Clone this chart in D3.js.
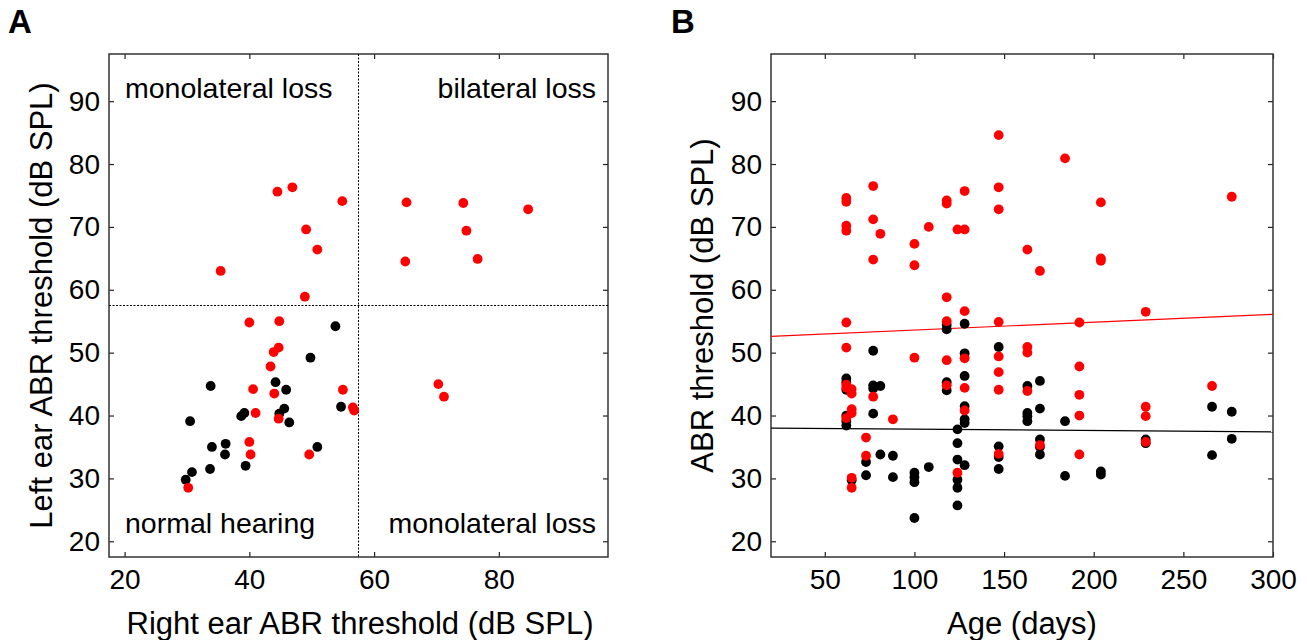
<!DOCTYPE html>
<html>
<head>
<meta charset="utf-8">
<script src="https://cdn.jsdelivr.net/npm/d3@7"></script>
<style>
  body { margin: 0; background: #fff; }
  text { font-family: "Liberation Sans", Arial, sans-serif; fill: #000; }
</style>
</head>
<body>
<div id="wrapper"></div>
<script>
// Panel A: right ear vs left ear threshold (dB SPL)
const blackA = [
  [53.8,54.2],[49.8,49.2],[33.8,44.7],[44.2,45.3],[45.9,44.1],[45.6,41.1],[44.8,40.3],
  [46.4,38.9],[39.2,40.4],[38.7,39.9],[30.5,39.1],[54.7,41.4],[34.0,35.0],[36.2,35.5],
  [36.1,33.8],[33.7,31.5],[39.4,32.0],[50.9,35.0],[30.8,31.0],[29.8,29.8]
];
const redA = [
  [44.5,75.6],[46.9,76.3],[54.9,74.1],[49.1,69.6],[50.9,66.4],[35.4,63.0],[48.9,58.9],
  [65.2,73.9],[74.3,73.8],[84.7,72.8],[74.8,69.4],[65.0,64.5],[76.6,64.9],
  [70.3,45.0],[71.2,43.0],[56.6,41.3],[56.8,40.8],[55.0,44.1],
  [40.0,54.8],[44.8,55.0],[43.9,50.1],[44.7,50.8],[43.4,47.8],[40.6,44.2],[44.0,43.5],
  [41.0,40.4],[44.7,39.5],[40.0,35.8],[40.2,33.8],[49.6,33.8],[30.2,28.5]
];
const lossCutoff = 57.5;

// Panel B: age (days) vs threshold (dB SPL)
const blackB = [
  [62,45.9],[62,45.3],[62,44.1],[62,40.0],[62,39.1],[62,38.4],
  [65,29.7],[73,32.6],[73,30.5],
  [77,50.3],[77,44.8],[77,44.3],[77,40.3],
  [81,44.7],[81,33.8],[88,33.6],[88,30.2],
  [100,30.9],[100,30.2],[100,29.4],[100,23.7],[108,31.8],
  [118,54.4],[118,53.7],[118,45.3],[118,44.0],
  [124,37.8],[124,35.6],[124,33.0],[124,29.8],[124,28.5],[124,25.7],
  [128,54.6],[128,49.9],[128,46.3],[128,41.5],[128,39.4],[128,38.8],[128,32.1],
  [147,50.9],[147,35.1],[147,33.4],[147,31.5],
  [163,44.7],[163,40.4],[163,39.9],[163,39.1],
  [170,45.5],[170,41.1],[170,36.2],[170,35.0],[170,33.8],
  [184,39.1],[184,30.4],[204,31.1],[204,30.6],
  [229,36.2],[229,35.6],[266,41.4],[266,33.7],[277,40.6],[277,36.3]
];
const redB = [
  [62,74.6],[62,74.0],[62,70.2],[62,69.4],[62,54.8],[62,50.8],[62,44.9],[62,44.4],[62,39.6],
  [65,44.2],[65,43.5],[65,41.0],[65,40.4],[65,30.1],[65,28.5],
  [73,36.5],[73,33.6],
  [77,76.5],[77,71.2],[77,64.8],[77,43.0],
  [81,68.9],[88,39.4],
  [100,67.3],[100,63.9],[100,49.2],[108,70.0],
  [118,74.2],[118,73.7],[118,58.8],[118,55.0],[118,48.8],[118,44.8],
  [124,69.6],[124,30.9],
  [128,75.7],[128,69.6],[128,56.6],[128,49.1],[128,44.4],[128,40.8],
  [147,84.6],[147,76.3],[147,72.8],[147,54.9],[147,49.4],[147,46.9],[147,44.1],[147,33.9],
  [163,66.4],[163,50.9],[163,50.0],[163,43.9],
  [170,63.0],[170,35.3],[184,80.9],
  [192,54.8],[192,47.8],[192,43.3],[192,40.0],[192,33.8],
  [204,73.9],[204,65.0],[204,64.6],
  [229,56.5],[229,41.4],[229,39.9],[229,35.8],
  [266,44.7],[277,74.8]
];
// fitted lines, threshold at the two ends of the age axis
const fitAges = [20, 300];
const redFit = [52.6, 56.1];
const blackFit = [38.0, 37.4];

const ticksA = [20, 40, 60, 80];
const ticksY = [20, 30, 40, 50, 60, 70, 80, 90];
const ticksAge = [50, 100, 150, 200, 250, 300];

const width = 1307, height = 640;
const plotTop = 54, plotBottom = 557;
const r = 4.9;

let svg = d3.select("#wrapper").append("svg")
  .attr("width", width)
  .attr("height", height);

svg.append("rect").attr("width", width).attr("height", height).attr("fill", "#fff");

function panel(left, right, xDomain, xTicks) {
  let x = d3.scaleLinear().domain(xDomain).range([left, right]);
  let y = d3.scaleLinear().domain([17.5, 97.5]).range([plotBottom, plotTop]);
  let g = svg.append("g");

  // ticks on all four sides, pointing in
  g.append("g").attr("transform", `translate(0,${plotBottom})`)
    .call(d3.axisBottom(x).tickValues(xTicks).tickSize(-5).tickPadding(12));
  g.append("g").attr("transform", `translate(${left},0)`)
    .call(d3.axisLeft(y).tickValues(ticksY).tickSize(-5).tickPadding(9));
  g.append("g").attr("transform", `translate(0,${plotTop})`)
    .call(d3.axisTop(x).tickValues(xTicks).tickSize(-5).tickFormat(""));
  g.append("g").attr("transform", `translate(${right},0)`)
    .call(d3.axisRight(y).tickValues(ticksY).tickSize(-5).tickFormat(""));

  g.selectAll(".domain").remove();
  g.selectAll(".tick line").attr("stroke", "#222").attr("stroke-width", 1.2);
  g.selectAll(".tick text").style("font-size", "28px").attr("fill", "#000");

  g.append("rect")
    .attr("x", left).attr("y", plotTop)
    .attr("width", right - left).attr("height", plotBottom - plotTop)
    .attr("fill", "none").attr("stroke", "#333").attr("stroke-width", 1.5);
  return {x, y, g};
}

function dots(p, data, color) {
  p.g.append("g").selectAll("circle")
    .data(data)
    .join("circle")
    .attr("cx", d => p.x(d[0]))
    .attr("cy", d => p.y(d[1]))
    .attr("r", r)
    .attr("fill", color);
}

// ---- Panel A
let a = panel(109, 608, [17.5, 97.5], ticksA);

a.g.append("line")
  .attr("x1", a.x(lossCutoff)).attr("x2", a.x(lossCutoff))
  .attr("y1", plotTop).attr("y2", plotBottom)
  .attr("stroke", "#000").attr("stroke-width", 1).attr("stroke-dasharray", "2,1.5");
a.g.append("line")
  .attr("x1", 109).attr("x2", 608)
  .attr("y1", a.y(lossCutoff)).attr("y2", a.y(lossCutoff))
  .attr("stroke", "#000").attr("stroke-width", 1).attr("stroke-dasharray", "2,1.5");

dots(a, blackA, "#000");
dots(a, redA, "#ff0000");

const notes = [
  {t: "monolateral loss", x: 125, y: 98, anchor: "start"},
  {t: "bilateral loss", x: 596, y: 98, anchor: "end"},
  {t: "normal hearing", x: 125, y: 533, anchor: "start"},
  {t: "monolateral loss", x: 596, y: 533, anchor: "end"}
];
svg.selectAll(".note")
  .data(notes)
  .join("text")
  .attr("class", "note")
  .attr("x", d => d.x).attr("y", d => d.y)
  .attr("text-anchor", d => d.anchor)
  .style("font-size", "28.5px")
  .text(d => d.t);

// ---- Panel B
let b = panel(771, 1273, [20, 300], ticksAge);

b.g.append("line")
  .attr("x1", b.x(fitAges[0])).attr("x2", b.x(fitAges[1]))
  .attr("y1", b.y(redFit[0])).attr("y2", b.y(redFit[1]))
  .attr("stroke", "#ff0000").attr("stroke-width", 1.2);
b.g.append("line")
  .attr("x1", b.x(fitAges[0])).attr("x2", b.x(fitAges[1]))
  .attr("y1", b.y(blackFit[0])).attr("y2", b.y(blackFit[1]))
  .attr("stroke", "#000").attr("stroke-width", 1.2);

dots(b, blackB, "#000");
dots(b, redB, "#ff0000");

// axis titles
function title(txt, x, y, rot) {
  svg.append("text")
    .attr("transform", `translate(${x},${y}) rotate(${rot})`)
    .attr("text-anchor", "middle")
    .style("font-size", "31px")
    .text(txt);
}
title("Right ear ABR threshold (dB SPL)", 360, 634, 0);
title("Left ear ABR threshold (dB SPL)", 52, 305.5, -90);
title("Age (days)", 1022, 634, 0);
title("ABR threshold (dB SPL)", 713, 305.5, -90);

// panel letters
svg.append("text").attr("x", 8).attr("y", 33)
  .style("font-size", "33px").style("font-weight", "bold").text("A");
svg.append("text").attr("x", 671).attr("y", 33)
  .style("font-size", "33px").style("font-weight", "bold").text("B");
</script>
</body>
</html>
